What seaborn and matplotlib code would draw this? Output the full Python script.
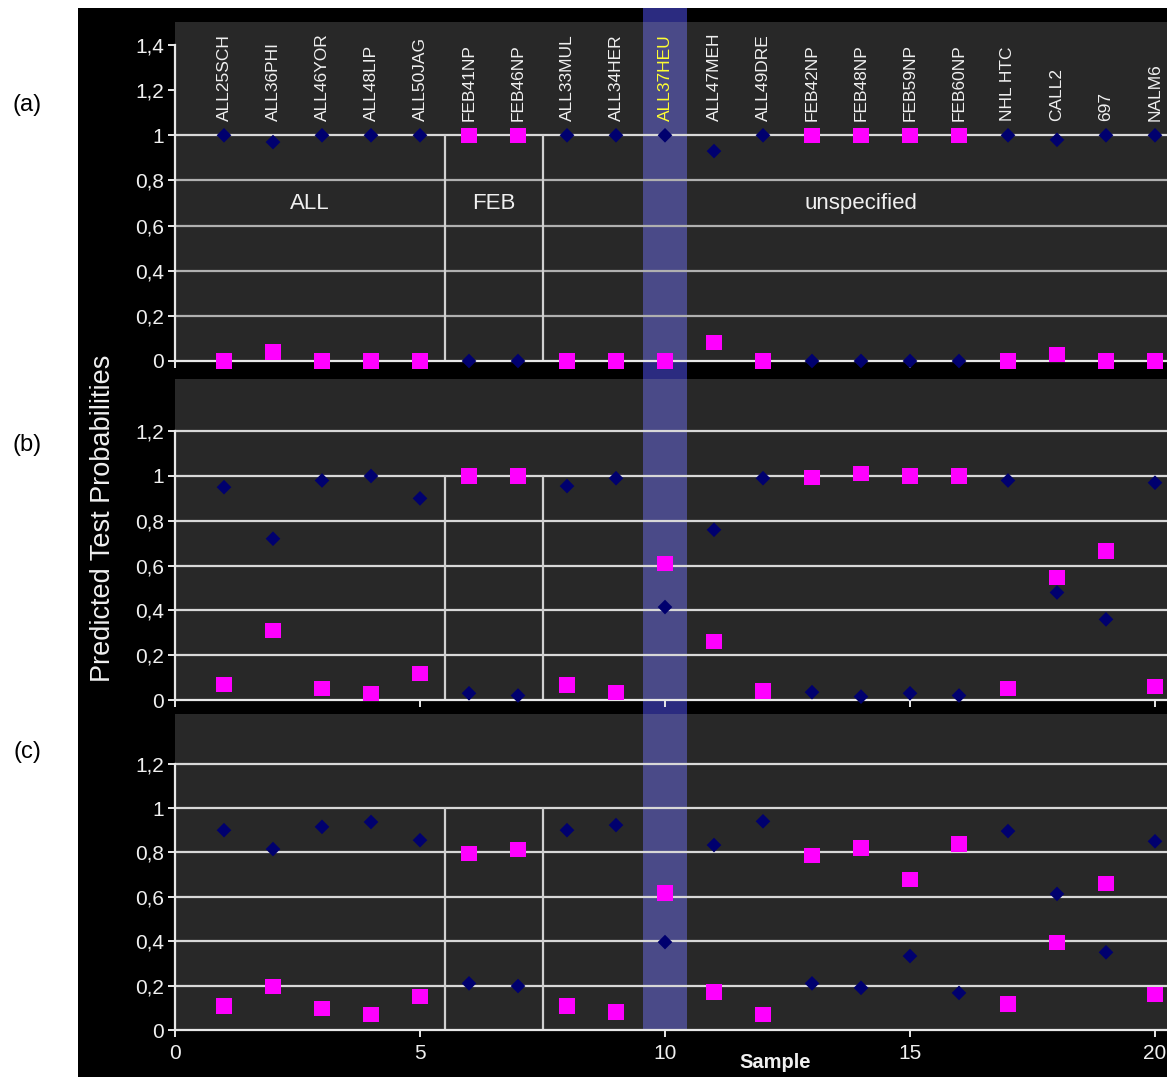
import matplotlib
matplotlib.use("Agg")
import matplotlib.pyplot as plt
import seaborn as sns
import pandas as pd
from matplotlib.patches import Rectangle
from matplotlib.transforms import blended_transform_factory

# ---------------- data ----------------
samples = list(range(1, 21))
sample_names = ["ALL25SCH", "ALL36PHI", "ALL46YOR", "ALL48LIP", "ALL50JAG",
                "FEB41NP", "FEB46NP", "ALL33MUL", "ALL34HER", "ALL37HEU",
                "ALL47MEH", "ALL49DRE", "FEB42NP", "FEB48NP", "FEB59NP",
                "FEB60NP", "NHL HTC", "CALL2", "697", "NALM6"]
highlight_sample = "ALL37HEU"
group_names = ["ALL", "FEB", "unspecified"]
group_centers = [2.75, 6.5, 14.0]
group_breaks = [5.5, 7.5]

a_all = [1.00, 0.97, 1.00, 1.00, 1.00, 0.00, 0.00, 1.00, 1.00, 1.00,
         0.93, 1.00, 0.00, 0.00, 0.00, 0.00, 1.00, 0.98, 1.00, 1.00]
a_feb = [0.00, 0.04, 0.00, 0.00, 0.00, 1.00, 1.00, 0.00, 0.00, 0.00,
         0.08, 0.00, 1.00, 1.00, 1.00, 1.00, 0.00, 0.03, 0.00, 0.00]

b_all = [0.95, 0.72, 0.98, 1.00, 0.90, 0.03, 0.02, 0.955, 0.99, 0.415,
         0.76, 0.99, 0.035, 0.015, 0.03, 0.02, 0.98, 0.48, 0.36, 0.97]
b_feb = [0.07, 0.31, 0.05, 0.03, 0.12, 1.00, 1.00, 0.067, 0.035, 0.61,
         0.26, 0.04, 0.995, 1.01, 1.00, 1.00, 0.05, 0.545, 0.665, 0.06]

c_all = [0.90, 0.815, 0.915, 0.937, 0.855, 0.21, 0.198, 0.90, 0.923, 0.396,
         0.833, 0.94, 0.21, 0.19, 0.333, 0.167, 0.896, 0.613, 0.35, 0.85]
c_feb = [0.108, 0.194, 0.095, 0.068, 0.149, 0.797, 0.815, 0.108, 0.081, 0.617,
         0.171, 0.068, 0.788, 0.82, 0.676, 0.838, 0.117, 0.396, 0.658, 0.158]

yticks_a = [0, 0.2, 0.4, 0.6, 0.8, 1.0, 1.2, 1.4]
yticks_bc = [0, 0.2, 0.4, 0.6, 0.8, 1.0, 1.2]
xticks = [0, 5, 10, 15, 20]

def fmt(v):
    return ("%g" % v).replace(".", ",")

# ---------------- style ----------------
sns.set_theme(style="dark")
plt.rcParams["font.family"] = ["Liberation Sans", "DejaVu Sans"]

W, H = 1167, 1077
fig = plt.figure(figsize=(W / 100, H / 100), dpi=100, facecolor="white")
fig.add_artist(Rectangle((78 / W, 0), 1 - 78 / W, (H - 8) / H,
                         transform=fig.transFigure, facecolor="black",
                         edgecolor="none", zorder=-2))

GRAY = "#282828"
TXT = "#f0f0f0"
NAVY = "#00006e"
MAG = "#ff00ff"
BAND_AX = "#4a4a88"
BAND_GAP = "#2b2b80"

def make_ax(bottom_px, top_px, per_unit):
    ax = fig.add_axes([175 / W, (H - bottom_px) / H, (W - 175) / W,
                       (bottom_px - top_px) / H])
    ax.set_facecolor(GRAY)
    ax.set_xlim(0, (W - 175) / 49.0)
    ax.set_ylim(0, (bottom_px - top_px) / per_unit)
    return ax

ax_a = make_ax(361, 22, 225.7)
ax_b = make_ax(700, 379, 224.0)
ax_c = make_ax(1030, 714, 222.0)

# band through all panels (gaps drawn at figure level)
trans = blended_transform_factory(ax_c.transData, fig.transFigure)
fig.add_artist(Rectangle((9.55, 47 / H), 0.9, (1030 - 8) / H, transform=trans,
                         facecolor=BAND_GAP, edgecolor="none", zorder=-1))

panels = [(ax_a, a_all, a_feb, yticks_a), (ax_b, b_all, b_feb, yticks_bc),
          (ax_c, c_all, c_feb, yticks_bc)]

for i, (ax, yall, yfeb, yt) in enumerate(panels):
    ax.axvspan(9.55, 10.45, color=BAND_AX, zorder=0.8, lw=0)
    grid_top = 1.0 if i == 0 else 1.2
    for v in yt:
        if 0 < v <= grid_top + 1e-9:
            col = "#b0b0b0" if (i == 0 and v < 1) else "#d8d8d8"
            ax.axhline(v, color=col, lw=1.6, zorder=1)
    for xb in group_breaks:
        ax.plot([xb, xb], [0, 1], color="#d0d0d0", lw=1.6, zorder=1)
    df = pd.DataFrame({"sample": samples, "ALL": yall, "FEB": yfeb})
    sns.scatterplot(data=df, x="sample", y="ALL", marker="D", s=56,
                    color=NAVY, edgecolor="none", ax=ax, zorder=3, clip_on=False)
    sns.scatterplot(data=df, x="sample", y="FEB", marker="s", s=118,
                    color=MAG, edgecolor="none", ax=ax, zorder=3, clip_on=False)
    ax.set_xlabel("")
    ax.set_ylabel("")
    for sp in ["top", "right"]:
        ax.spines[sp].set_visible(False)
    for sp in ["left", "bottom"]:
        ax.spines[sp].set_visible(True)
        ax.spines[sp].set_color("#e8e8e8")
        ax.spines[sp].set_linewidth(1.6)
        ax.spines[sp].set_zorder(2)
    ax.spines["left"].set_bounds(0, yt[-1])
    ax.set_yticks(yt)
    ax.set_yticklabels([fmt(v) for v in yt])
    ax.set_xticks(xticks)
    ax.tick_params(axis="both", which="both", direction="out", length=5,
                   width=1.4, color="#e8e8e8", labelcolor=TXT, labelsize=15,
                   left=True, bottom=True)
    ax.tick_params(axis="y", pad=3)
    ax.tick_params(axis="x", pad=5)
    ax.grid(False)
    if i < 2:
        ax.set_xticklabels([])
    else:
        ax.set_xticklabels([str(v) for v in xticks])

# sample names on top panel
for x, name in zip(samples, sample_names):
    ax_a.text(x, 1.065, name, rotation=90, ha="center", va="bottom",
              fontsize=12.5, color="#ffff33" if name == highlight_sample else TXT,
              zorder=4)
for xc, g in zip(group_centers, group_names):
    ax_a.text(xc, 0.70, g, ha="center", va="center", fontsize=16, color=TXT,
              zorder=4)

# axis labels
fig.text(103 / W, 1 - 518 / H, "Predicted Test Probabilities", rotation=90,
         ha="center", va="center", fontsize=19.5, color=TXT)
fig.text(775 / W, 1 - 1063 / H, "Sample", ha="center", va="center",
         fontsize=14.5, fontweight="bold", color=TXT)

# panel letters
for lab, ypx in [("(a)", 105), ("(b)", 445), ("(c)", 752)]:
    fig.text(27 / W, 1 - ypx / H, lab, ha="center", va="center", fontsize=17,
             color="black")

fig.savefig("out.png", dpi=100, facecolor=fig.get_facecolor())
